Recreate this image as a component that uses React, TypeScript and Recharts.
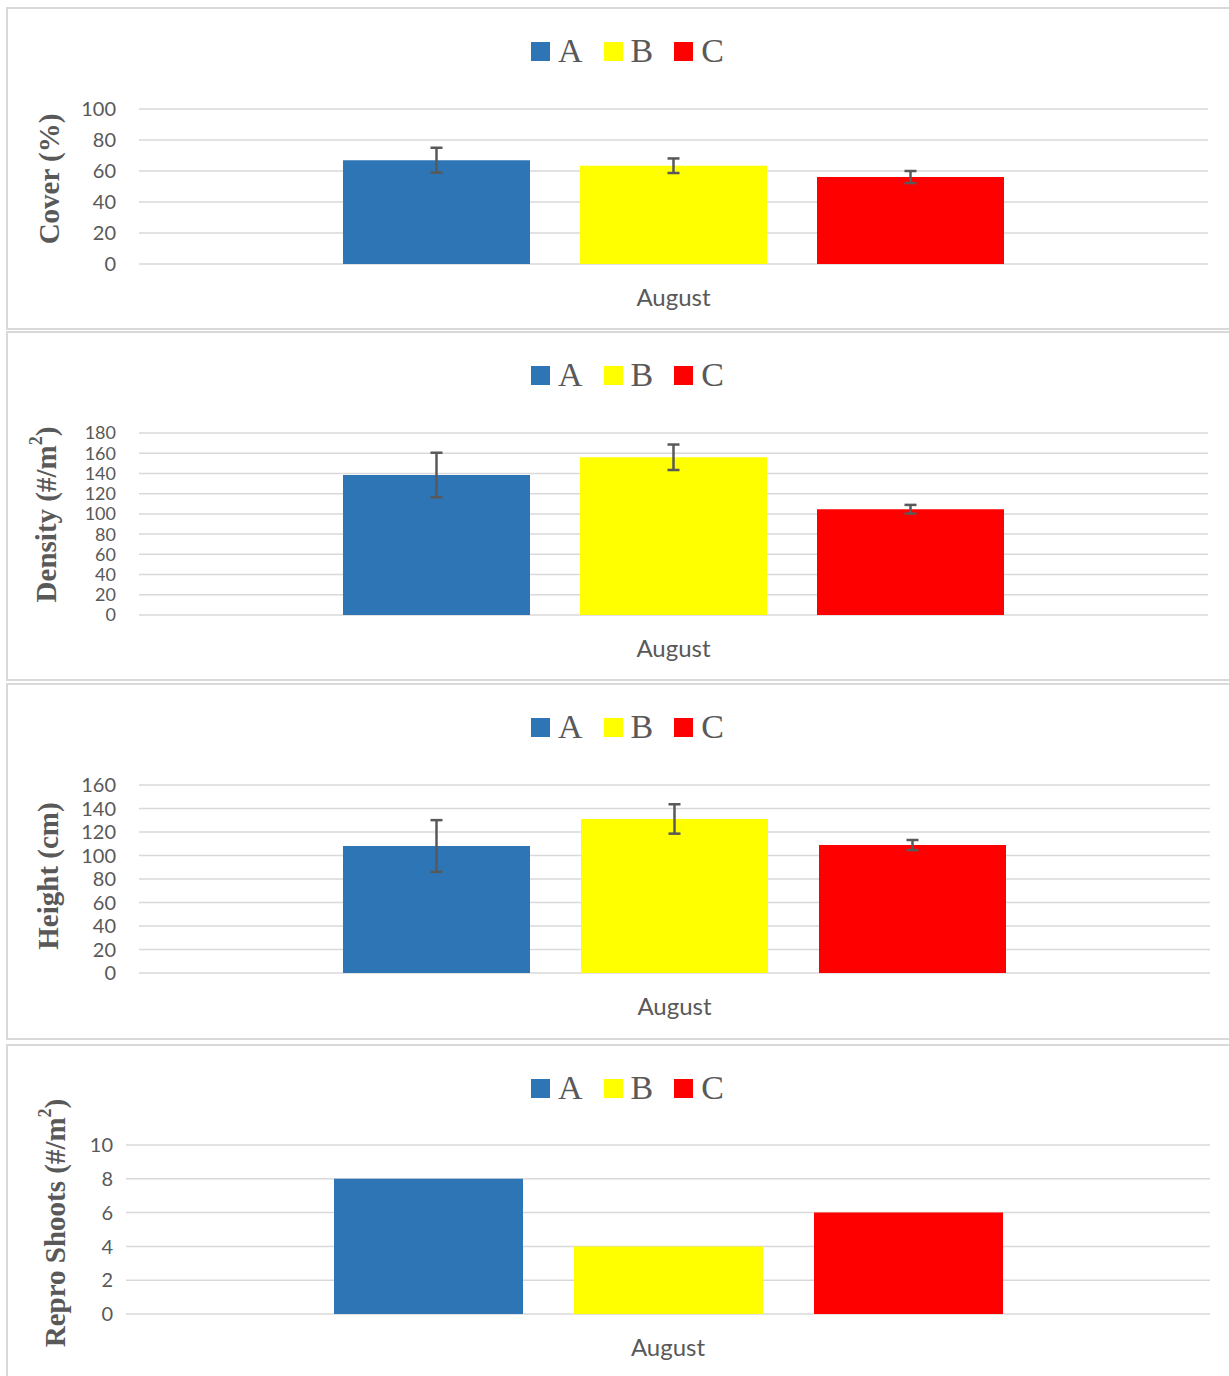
import React from "react";
import { Bar, BarChart, CartesianGrid, ErrorBar, Label, XAxis, YAxis } from "recharts";

const categories = ["August"];
const seriesNames = ["A", "B", "C"];
const seriesColors = ["#2E75B6", "#FFFF00", "#FF0000"];

const coverValues = [67, 63.4, 56.1];
const coverErrors = [8, 4.7, 3.9];
const coverTicks = [0, 20, 40, 60, 80, 100];

const densityValues = [138.5, 156, 104.6];
const densityErrors = [22, 12.6, 4.3];
const densityTicks = [0, 20, 40, 60, 80, 100, 120, 140, 160, 180];

const heightValues = [108.1, 131.1, 108.9];
const heightErrors = [22, 12.5, 4.3];
const heightTicks = [0, 20, 40, 60, 80, 100, 120, 140, 160];

const reproValues = [8, 4, 6];
const reproTicks = [0, 2, 4, 6, 8, 10];

const GRAY = "#595959";
const GRID = "#d9d9d9";
const PANEL_W = 1243;

function buildRows(values: number[], errors?: number[]) {
  return categories.map((category) => {
    const row: Record<string, string | number> = { category };
    seriesNames.forEach((name, i) => {
      row[name] = values[i];
      if (errors) row[name + "Err"] = errors[i];
    });
    return row;
  });
}

function ChartLegend() {
  return (
    <div
      style={{
        position: "absolute",
        left: 0,
        top: 27,
        width: PANEL_W,
        height: 34,
        display: "flex",
        justifyContent: "center",
        alignItems: "center",
        fontFamily: "'Liberation Serif', serif",
        fontSize: 34,
        lineHeight: 1,
        color: GRAY,
      }}
    >
      {seriesNames.map((name, i) => (
        <div key={name} style={{ display: "flex", alignItems: "center", marginRight: i < seriesNames.length - 1 ? 21 : 0 }}>
          <span style={{ display: "inline-block", width: 19, height: 19, background: seriesColors[i], marginRight: 8 }} />
          <span>{name}</span>
        </div>
      ))}
    </div>
  );
}

interface PanelProps {
  top: number;
  height: number;
  plotTop: number;
  plotHeight: number;
  plotLeft: number;
  plotRight: number;
  tickGap: number;
  tickFont: number;
  barSize: number;
  barGap: number;
  values: number[];
  errors?: number[];
  ticks: number[];
  title: string;
  titleSup?: string;
  titleX: number;
  titleDy: number;
}

function Panel(p: PanelProps) {
  const data = buildRows(p.values, p.errors);
  const xAxisHeight = 40;
  const margin = {
    top: p.plotTop,
    left: 0,
    right: PANEL_W - p.plotRight,
    bottom: p.height - p.plotTop - p.plotHeight - xAxisHeight,
  };

  const renderTitle = (props: any) => {
    const vb = props.viewBox || { x: 0, y: p.plotTop, width: 0, height: p.plotHeight };
    const cy = vb.y + vb.height / 2 + p.titleDy;
    return (
      <text
        x={p.titleX}
        y={cy}
        transform={`rotate(-90, ${p.titleX}, ${cy})`}
        textAnchor="middle"
        dominantBaseline="central"
        fontFamily="'Liberation Serif', serif"
        fontWeight="bold"
        fontSize={29}
        fill={GRAY}
      >
        <tspan>{p.title}</tspan>
        {p.titleSup && (
          <>
            <tspan dy={-10} fontSize={18}>{p.titleSup}</tspan>
            <tspan dy={10}>)</tspan>
          </>
        )}
      </text>
    );
  };

  return (
    <div style={{ position: "absolute", left: 6, top: p.top, width: PANEL_W, height: p.height }}>
      <div
        style={{
          position: "absolute",
          inset: 0,
          border: `2px solid ${GRID}`,
          boxSizing: "border-box",
        }}
      />
      <div style={{ position: "absolute", left: 0, top: 0 }}>
        <BarChart width={PANEL_W} height={p.height} data={data} margin={margin} barSize={p.barSize} barGap={p.barGap}>
          <CartesianGrid vertical={false} stroke={GRID} strokeWidth={1.5} />
          <XAxis
            dataKey="category"
            height={xAxisHeight}
            axisLine={false}
            tickLine={false}
            tickSize={0}
            tickMargin={25}
            tick={{ fill: GRAY, fontSize: 24, fontFamily: "Lato" }}
          />
          <YAxis
            width={p.plotLeft}
            domain={[0, p.ticks[p.ticks.length - 1]]}
            ticks={p.ticks}
            interval={0}
            axisLine={false}
            tickLine={false}
            tickSize={0}
            tickMargin={p.tickGap}
            tick={{ fill: GRAY, fontSize: p.tickFont, fontFamily: "Lato" }}
          >
            <Label content={renderTitle} />
          </YAxis>
          {seriesNames.map((name, i) => (
            <Bar key={name} dataKey={name} fill={seriesColors[i]} isAnimationActive={false}>
              {p.errors && (
                <ErrorBar dataKey={name + "Err"} width={6} stroke={GRAY} strokeWidth={2.5} isAnimationActive={false} />
              )}
            </Bar>
          ))}
        </BarChart>
      </div>
      <ChartLegend />
    </div>
  );
}

export default function App() {
  return (
    <div
      style={{
        position: "absolute",
        left: 0,
        top: 0,
        width: 1229,
        height: 1376,
        overflow: "hidden",
        background: "#ffffff",
      }}
    >
      <Panel
        top={7}
        height={323}
        plotTop={102}
        plotHeight={155}
        plotLeft={133}
        plotRight={1202}
        tickGap={23}
        tickFont={20}
        barSize={187}
        barGap={50}
        values={coverValues}
        errors={coverErrors}
        ticks={coverTicks}
        title="Cover (%)"
        titleX={43}
        titleDy={-7.5}
      />
      <Panel
        top={331}
        height={350}
        plotTop={102}
        plotHeight={182}
        plotLeft={133}
        plotRight={1202}
        tickGap={23}
        tickFont={18}
        barSize={187}
        barGap={50}
        values={densityValues}
        errors={densityErrors}
        ticks={densityTicks}
        title="Density (#/m"
        titleSup="2"
        titleX={40}
        titleDy={-9.5}
      />
      <Panel
        top={683}
        height={357}
        plotTop={102}
        plotHeight={188}
        plotLeft={133}
        plotRight={1204}
        tickGap={23}
        tickFont={20}
        barSize={187}
        barGap={51}
        values={heightValues}
        errors={heightErrors}
        ticks={heightTicks}
        title="Height (cm)"
        titleX={42}
        titleDy={-3}
      />
      <Panel
        top={1044}
        height={345}
        plotTop={101}
        plotHeight={169}
        plotLeft={120}
        plotRight={1204}
        tickGap={13}
        tickFont={20}
        barSize={189}
        barGap={51}
        values={reproValues}
        ticks={reproTicks}
        title="Repro Shoots (#/m"
        titleSup="2"
        titleX={49}
        titleDy={-6.5}
      />
    </div>
  );
}
